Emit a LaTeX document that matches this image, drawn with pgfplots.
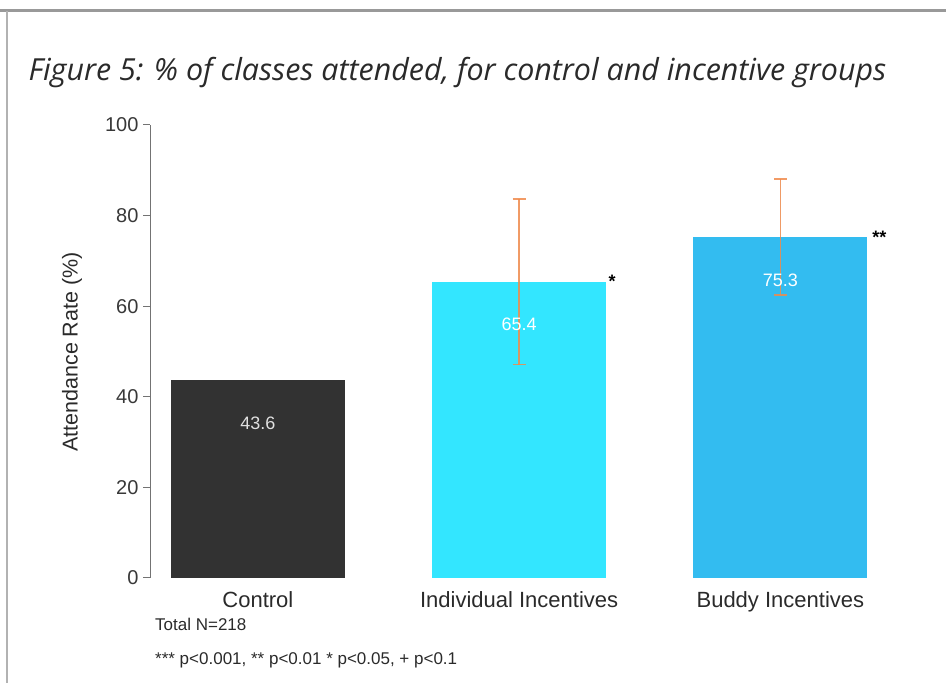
\documentclass[border=0pt]{standalone}
\usepackage{pgfplots}
\pgfplotsset{compat=1.18}
\usepackage{fontspec}
\setmainfont{Liberation Sans}
\newfontfamily\titlefont{Open Sans}
\definecolor{ctrl}{HTML}{323232}
\definecolor{indiv}{HTML}{33E6FF}
\definecolor{buddy}{HTML}{33BCF0}
\definecolor{errc}{HTML}{F08A4B}
\definecolor{txt}{HTML}{2A2A2A}
\begin{document}
\begin{tikzpicture}[x=1pt,y=1pt]
\path[use as bounding box] (0,0) rectangle (946,683);
\draw[line width=3pt, black!40] (0,672) -- (946,672);
\draw[line width=1.5pt, black!30] (7,672) -- (7,0);
\node[anchor=west, text=txt, font=\titlefont\itshape\fontsize{30.4}{34}\selectfont] at (25,610) {Figure 5: \% of classes attended, for control and incentive groups};
\begin{axis}[
  at={(150pt,105pt)}, anchor=south west,
  scale only axis, width=761pt, height=453pt,
  xmin=-0.413, xmax=2.5, ymin=0, ymax=100,
  axis y line*=left, axis x line*=bottom,
  x axis line style={draw=none},
  y axis line style={black!55, line width=1pt},
  xtick={0,1,2}, xticklabels={Control, Individual Incentives, Buddy Incentives},
  ytick={0,20,40,60,80,100},
  major x tick style={draw=none},
  major y tick style={black!55, line width=1pt},
  tick align=outside, major tick length=7pt,
  /pgf/number format/assume math mode=true,
  yticklabel style={font=\fontsize{20}{22}\selectfont, text=black!78, xshift=-1pt},
  xticklabel style={font=\fontsize{22}{24}\selectfont, text=txt, yshift=-3pt},
  ybar, bar width=0.666, bar shift=0pt,
  clip=false,
]
\addplot[fill=ctrl, draw=none] coordinates {(0,43.6)};
\addplot[fill=indiv, draw=none,
  error bars/.cd, y dir=both, y explicit,
  error bar style={draw=errc, line width=1.6pt, opacity=0.85},
  error mark options={rotate=90, mark size=6.5pt, draw=errc, line width=1.6pt}]
  coordinates {(1,65.4) +- (0,18.3)};
\addplot[fill=buddy, draw=none,
  error bars/.cd, y dir=both, y explicit,
  error bar style={draw=errc, line width=1.6pt, opacity=0.85},
  error mark options={rotate=90, mark size=6.5pt, draw=errc, line width=1.6pt}]
  coordinates {(2,75.3) +- (0,12.8)};
\node[text=black!12, font=\fontsize{18}{20}\selectfont] at (axis cs:0,34.1) {43.6};
\node[text=white, font=\fontsize{18}{20}\selectfont] at (axis cs:1,55.9) {65.4};
\node[text=white, font=\fontsize{18}{20}\selectfont] at (axis cs:2,65.8) {75.3};
\node[font=\bfseries\fontsize{18}{18}\selectfont, inner sep=0pt] at ([xshift=6pt,yshift=0pt]axis cs:1.333,65.4) {*};
\node[font=\bfseries\fontsize{18}{18}\selectfont, inner sep=0pt] at ([xshift=12pt,yshift=0pt]axis cs:2.333,75.3) {**};
\end{axis}
\node[rotate=90, text=txt, font=\fontsize{21.5}{24}\selectfont] at (72,331) {Attendance Rate (\%)};
\node[anchor=west, text=txt, font=\fontsize{17}{19}\selectfont, inner sep=0pt] at (155,59) {Total N=218};
\node[anchor=west, text=txt, font=\fontsize{17}{19}\selectfont, inner sep=0pt] at (155,23) {*** p<0.001, ** p<0.01 * p<0.05, + p<0.1};
\end{tikzpicture}
\end{document}
